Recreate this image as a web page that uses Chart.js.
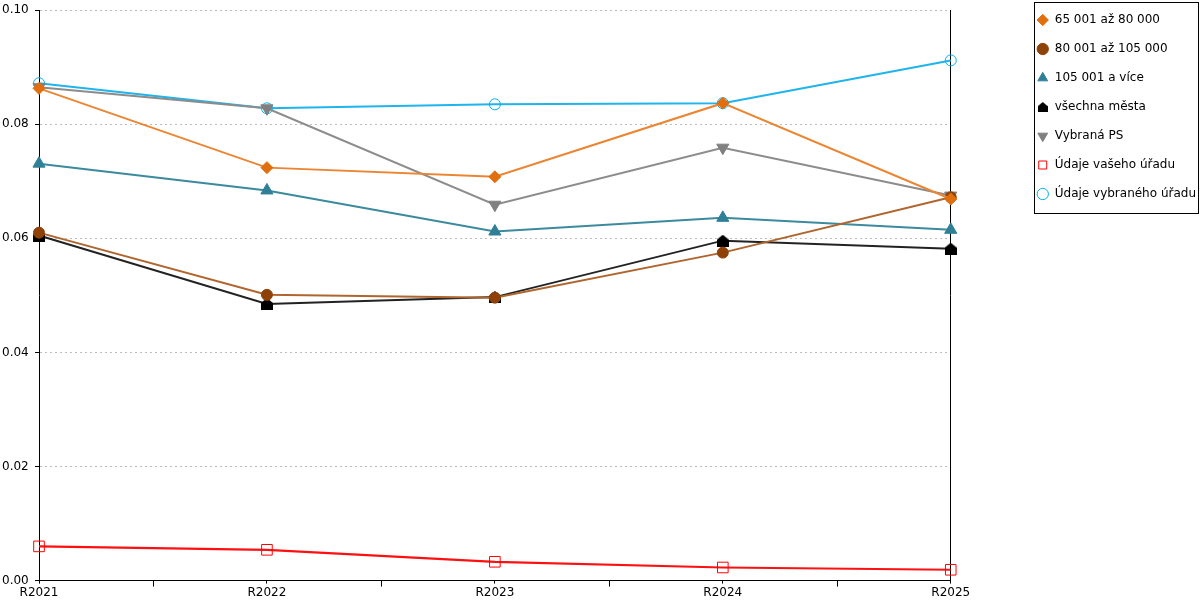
<!DOCTYPE html>
<html>
<head>
<meta charset="utf-8">
<script src="https://cdn.jsdelivr.net/npm/chart.js@4/dist/chart.umd.min.js"></script>
<style>
  html, body { margin: 0; padding: 0; background: #fff; }
  #wrap { width: 1200px; height: 600px; }
</style>
</head>
<body>
<div id="wrap"><canvas id="chart"></canvas></div>
<script>
const years = ['R2021', 'R2022', 'R2023', 'R2024', 'R2025']
const towns65to80 = [0.0863, 0.0724, 0.0708, 0.0837, 0.0669]
const towns80to105 = [0.0610, 0.0501, 0.0496, 0.0575, 0.0672]
const towns105plus = [0.0731, 0.0684, 0.0612, 0.0636, 0.0615]
const allTowns = [0.0605, 0.0485, 0.0497, 0.0596, 0.0582]
const selectedPS = [0.0865, 0.0828, 0.0659, 0.0759, 0.0675]
const yourOffice = [0.0060, 0.0054, 0.0033, 0.0023, 0.0019]
const selectedOffice = [0.0872, 0.0828, 0.0835, 0.0837, 0.0912]

// little "house" marker for všechna města
function houseMarker(size, color) {
  const c = document.createElement('canvas')
  c.width = size
  c.height = size
  const g = c.getContext('2d')
  g.fillStyle = color
  g.beginPath()
  g.moveTo(size / 2, 0)
  g.lineTo(size, size * 0.42)
  g.lineTo(size, size)
  g.lineTo(0, size)
  g.lineTo(0, size * 0.42)
  g.closePath()
  g.fill()
  return c
}
const house = houseMarker(12, '#000000')
const houseSmall = houseMarker(10, '#000000')

const LEGEND_PAD = 17

// minor ticks half way between the categories
const midTicks = {
  id: 'midTicks',
  afterDraw(chart) {
    const x = chart.scales.x
    const ctx = chart.ctx
    ctx.save()
    ctx.strokeStyle = '#000'
    ctx.lineWidth = 1
    for (let i = 0; i < years.length - 1; i++) {
      const px = Math.round((x.getPixelForValue(i) + x.getPixelForValue(i + 1)) / 2) + 0.5
      ctx.beginPath()
      ctx.moveTo(px, x.top)
      ctx.lineTo(px, x.top + 6)
      ctx.stroke()
    }
    ctx.restore()
  },
}

// nudge the legend a bit up and right, then frame it
const legendFrame = {
  id: 'legendFrame',
  afterLayout(chart) {
    const lg = chart.legend
    if (!lg) return
    lg.left += 6
    lg.right += 6
    lg.top -= 6
    lg.bottom -= 6
  },
  afterDraw(chart) {
    const lg = chart.legend
    if (!lg) return
    const n = chart.data.datasets.length
    const ctx = chart.ctx
    const left = Math.round(lg.left + LEGEND_PAD - 3) + 0.5
    const top = Math.round(lg.top + LEGEND_PAD - 12) + 0.5
    const bottom = Math.round(lg.top + LEGEND_PAD + (n - 1) * (12 + LEGEND_PAD) + 12 + 13) + 0.5
    const right = chart.width - 1.5
    ctx.save()
    ctx.strokeStyle = '#000'
    ctx.lineWidth = 1
    ctx.strokeRect(left, top, right - left, bottom - top)
    ctx.restore()
  },
}

function series(label, data, color, lineColor, style, radius, extra) {
  return Object.assign({
    label,
    data,
    borderColor: lineColor,
    borderWidth: 2,
    backgroundColor: color,
    pointStyle: style,
    pointRadius: radius,
    pointHoverRadius: radius,
    pointBackgroundColor: color,
    pointBorderColor: color,
    pointBorderWidth: 1,
    tension: 0,
    fill: false,
    clip: false,
  }, extra || {})
}

Chart.defaults.font.family = '"DejaVu Sans", Verdana, sans-serif'
Chart.defaults.font.size = 12
Chart.defaults.color = '#000'

const chart = new Chart(document.getElementById('chart').getContext('2d'), {
  type: 'line',
  data: {
    labels: years,
    datasets: [
      series('65 001 až 80 000', towns65to80, '#e06f10', '#ec8532', 'rectRot', 6),
      series('80 001 až 105 000', towns80to105, '#8f4208', '#b0652e', 'circle', 5.5),
      series('105 001 a více', towns105plus, '#2f8097', '#3b8a9e', 'triangle', 7),
      series('všechna města', allTowns, '#000000', '#222222', house, 6),
      series('Vybraná PS', selectedPS, '#808080', '#8c8c8c', 'triangle', 7, { pointRotation: 180 }),
      series('Údaje vašeho úřadu', yourOffice, 'rgba(255,255,255,0)', '#ff1010', 'rect', 7.5,
        { pointBorderColor: '#ff0000', borderWidth: 2.2 }),
      series('Údaje vybraného úřadu', selectedOffice, 'rgba(255,255,255,0)', '#1eb4ec', 'circle', 5.5,
        { pointBorderColor: '#00b0f0' }),
    ],
  },
  options: {
    responsive: true,
    maintainAspectRatio: false,
    animation: false,
    layout: { padding: { left: 2, right: 0, top: 3, bottom: -2 } },
    scales: {
      x: {
        offset: false,
        grid: {
          display: true,
          drawOnChartArea: false,
          drawTicks: true,
          tickLength: 3,
          tickColor: '#000',
        },
        border: { display: true, color: '#000', width: 1 },
        ticks: { padding: 2, maxRotation: 0, autoSkip: false, color: '#000' },
      },
      y: {
        min: 0,
        max: 0.1,
        afterFit: (scale) => { scale.width = 37 },
        ticks: {
          stepSize: 0.02,
          padding: 3,
          crossAlign: 'far',
          color: '#000',
          callback: (v) => Number(v).toFixed(2),
        },
        grid: {
          color: '#bdbdbd',
          tickLength: 4,
          tickColor: '#000',
          tickBorderDash: [],
        },
        border: { display: true, color: '#000', width: 1, dash: [2, 3] },
      },
      y2: {
        position: 'right',
        display: true,
        z: 1,
        grid: { display: false, drawTicks: false },
        ticks: { display: false },
        border: { display: true, color: '#000', width: 1 },
        afterFit: (scale) => { scale.width = 63 },
      },
    },
    plugins: {
      legend: {
        display: true,
        position: 'right',
        align: 'start',
        labels: {
          usePointStyle: true,
          boxHeight: 8,
          padding: LEGEND_PAD,
          color: '#000',
          font: { size: 12 },
          generateLabels: (ch) => {
            const items = Chart.defaults.plugins.legend.labels.generateLabels(ch)
            items.forEach((it) => {
              if (it.pointStyle === house) it.pointStyle = houseSmall
            })
            return items
          },
        },
      },
      title: { display: false },
      tooltip: { enabled: false },
    },
  },
  plugins: [midTicks, legendFrame],
})
</script>
</body>
</html>
